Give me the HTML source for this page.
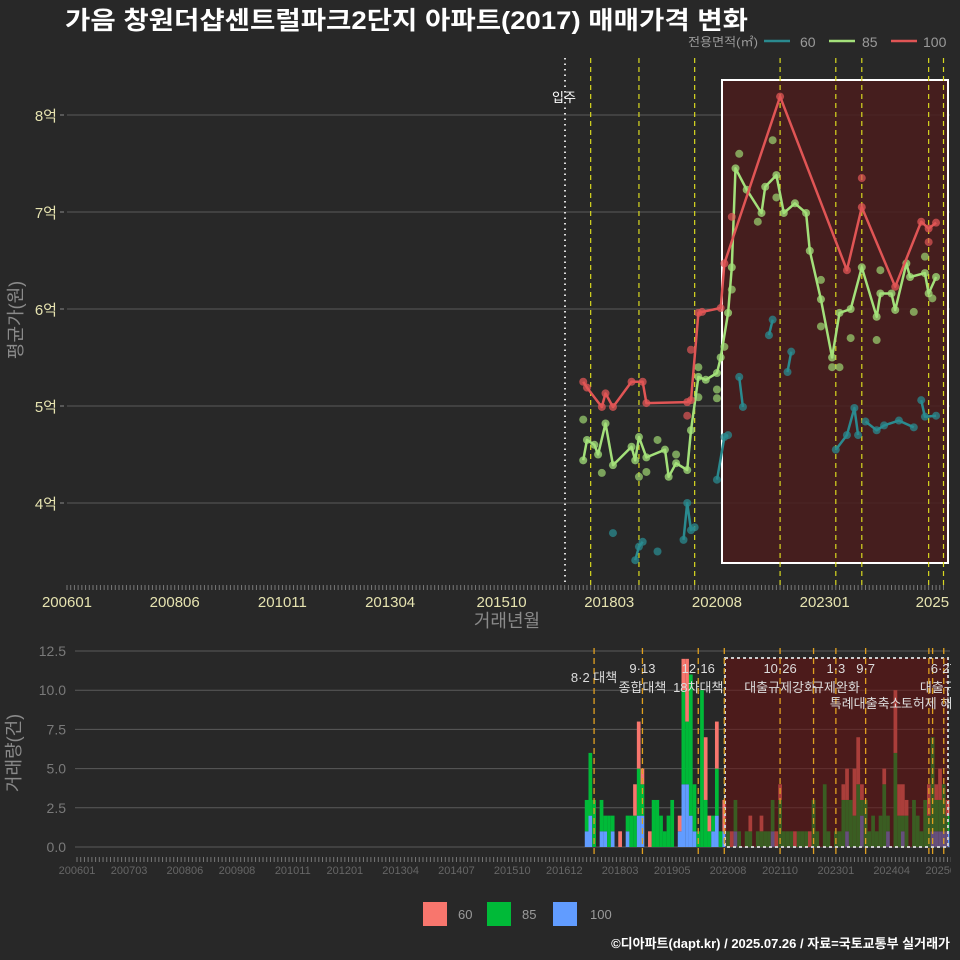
<!DOCTYPE html>
<html><head><meta charset="utf-8">
<style>
html,body{margin:0;padding:0;background:#282828;}
svg{display:block;font-family:"Liberation Sans","Noto Sans CJK KR",sans-serif;}
</style></head>
<body>
<svg id="c" width="960" height="960" viewBox="0 0 960 960" xmlns="http://www.w3.org/2000/svg">
<defs><clipPath id="botClip"><rect x="0" y="640" width="951" height="240"/></clipPath></defs>
<rect width="960" height="960" fill="#282828"/>
<text x="65" y="29" font-size="25" font-weight="bold" fill="#ffffff" textLength="683" lengthAdjust="spacingAndGlyphs">가음 창원더샵센트럴파크2단지 아파트(2017) 매매가격 변화</text>
<g font-size="14" fill="#9a9a9a">
<text x="688" y="46" font-size="12" textLength="70" lengthAdjust="spacingAndGlyphs">전용면적(㎡)</text>
<line x1="764" y1="41" x2="790" y2="41" stroke="#2a8a8f" stroke-width="2.5"/>
<text x="800" y="47">60</text>
<line x1="829" y1="41" x2="855" y2="41" stroke="#a3e07a" stroke-width="2.5"/>
<text x="862" y="47">85</text>
<line x1="891" y1="41" x2="917" y2="41" stroke="#e05555" stroke-width="2.5"/>
<text x="923" y="47">100</text>
</g>
<g id="topPanel"></g>
<g id="botPanel" clip-path="url(#botClip)"></g>
<g font-size="13" fill="#9a9a9a">
<rect x="423" y="902" width="24" height="24" fill="#f8766d"/>
<text x="458" y="919">60</text>
<rect x="487" y="902" width="24" height="24" fill="#00ba38"/>
<text x="522" y="919">85</text>
<rect x="553" y="902" width="24" height="24" fill="#619cff"/>
<text x="590" y="919">100</text>
</g>
<text x="950" y="948" text-anchor="end" font-size="13" font-weight="bold" fill="#ffffff">©디아파트(dapt.kr) / 2025.07.26 / 자료=국토교통부 실거래가</text>
</svg>
<script>
// ---------- price data (억) ----------
const dates85=["201708","201709","201711","201712","201802","201804","201809","201810","201811","201901","201906","201907","201909","201912","202001","202003","202005","202008","202009","202011","202012","202101","202104","202108","202109","202112","202202","202205","202208","202209","202212","202303","202305","202308","202311","202403","202404","202407","202408","202411","202412","202504","202505","202507"];
const price85=[4.44,4.65,4.60,4.50,4.82,4.39,4.58,4.44,4.68,4.47,4.55,4.27,4.41,4.34,4.75,5.30,5.27,5.34,5.50,5.96,6.43,7.45,7.23,6.99,7.26,7.38,6.99,7.09,6.99,6.60,6.10,5.50,5.96,6.00,6.43,5.92,6.16,6.16,5.99,6.47,6.33,6.37,6.16,6.33];
const dates100=["201708","201709","201801","201802","201804","201809","201812","201901","201912","202001","202003","202004","202009","202010","202201","202307","202311","202408","202503","202505","202507"];
const price100=[5.25,5.19,4.99,5.13,4.99,5.25,5.25,5.03,5.04,5.06,5.96,5.97,6.01,6.47,8.19,6.40,7.05,6.23,6.90,6.83,6.89];
const dates60=["201804","201810","201811","201812","201904","201911","201912","202001","202002","202008","202010","202011","202102","202103","202110","202111","202203","202204","202304","202307","202309","202310","202312","202403","202405","202409","202501","202503","202504","202507"];
const price60=[3.69,3.41,3.55,3.60,3.50,3.62,4.00,3.72,3.75,4.24,4.68,4.70,5.30,4.99,5.73,5.89,5.35,5.56,4.55,4.70,4.98,4.70,4.84,4.75,4.80,4.85,4.78,5.06,4.89,4.90];
const gaps60=[0,1,0,0,1,1,0,0,0,1,0,0,1,0,1,0,1,0,1,0,0,0,1,0,0,0,0,1,0,0];
const extraDates85=["201708","201801","201811","201901","201904","201909","202003","202008","202008","202010","202012","202102","202107","202111","202112","202212","202212","202303","202305","202308","202403","202404","202501","202504","202506","202003"];
const extraPrice85=[4.86,4.31,4.27,4.32,4.65,4.50,5.09,5.17,5.08,5.61,6.20,7.60,6.90,7.74,7.15,6.30,5.82,5.40,5.40,5.70,5.68,6.40,5.97,6.54,6.11,5.40];
const extraDates100=["202311","202505","202001","202012","201912"];
const extraPrice100=[7.35,6.69,5.58,6.95,4.90];
const priceTicks=[4,5,6,7,8];
const priceTickLabels=["4억","5억","6억","7억","8억"];
const xTickLabels=["200601","200806","201011","201304","201510","201803","202008","202301","2025"];
const xTickDates=["200601","200806","201011","201304","201510","201803","202008","202301","202506"];
const eventDates=["201710","201811","202002","202201","202304","202311","202505","202509"];
// ---------- volume data (from 201706) ----------
const volStart="201706";
const vol60=[0,0,0,0,0,0,0, 0,0,1,0,0,0,2,3,1,0,1,0, 0,0,0,0,0,0,1,2,4,0,0,0, 0,4,1,0,3,0,2,0,1,0,0,0, 0,1,0,0,1,0,0,0,1,1,0,0, 0,1,0,0,0,1,0,0,0,0,0,0, 0,0,1,2,0,3,3,1,0,0,0,0, 0,1,0,0,4,2,2,1,0,0,0,0, 0,2,0,1,2,0,1];
const vol85=[2,4,3,0,2,1,2, 1,0,0,0,1,2,2,3,2,0,0,3, 3,2,1,2,3,0,0,6,4,9,3,1, 10,3,1,1,3,1,0,1,0,2,1,0, 1,1,0,1,1,1,1,2,0,3,1,1, 1,0,1,1,1,0,3,1,0,4,1,0, 1,1,3,2,3,2,4,1,3,1,2,1, 2,4,1,0,6,2,1,2,0,3,2,1, 3,2,6,2,2,3,1];
const vol100=[1,2,0,0,1,1,0, 1,0,0,0,1,0,0,2,2,0,0,0, 0,0,0,0,0,0,1,4,4,2,1,0, 0,0,0,1,2,0,1,0,0,1,0,0, 0,0,0,0,0,0,0,1,0,0,0,0, 0,0,0,0,0,0,0,0,0,0,0,0, 0,0,0,1,0,0,0,2,0,0,0,0, 0,0,1,0,0,0,1,0,0,0,0,0, 0,0,1,1,1,1,1];
const volTicks=[0,2.5,5,7.5,10,12.5];
const volTickLabels=["0.0","2.5","5.0","7.5","10.0","12.5"];
const botTickDates=["200601","200703","200806","200908","201011","201201","201304","201407","201510","201612","201803","201905","202008","202110","202301","202404","202506"];
const policyDates=["201708","201809","201912","202007","202110","202207","202301","202309","202502","202503","202506"];
const policyTop=["8·2 대책","9·13","12·16","","10·26","","1·3","9·7","","","6·27"];
const policyBottom=["","종합대책","18차대책","","대출규제강화","","규제완화","특례대출축소","","토허제 해제","대출규제"];

const NS="http://www.w3.org/2000/svg";
function mk(parent,tag,attrs){const e=document.createElementNS(NS,tag);for(const k in attrs)e.setAttribute(k,attrs[k]);parent.appendChild(e);return e;}
function mIdx(d){return (parseInt(d.slice(0,4))-2006)*12+parseInt(d.slice(4,6))-1;}
const xT=d=>67+mIdx(d)*3.714;
const yT=v=>115+(8-v)*97;
const xB=m=>77+m*3.72;
const yB=v=>847-v*15.68;

const topG=document.getElementById('topPanel');
priceTicks.forEach((t,i)=>{
  const l=mk(topG,'line',{x1:67,x2:950,y1:yT(t),y2:yT(t),stroke:'#5a5a5a','stroke-width':1});
  
  
  const tx=mk(topG,'text',{x:57,y:yT(t)+6,'text-anchor':'end','font-size':15,fill:'#e6e3b0'});
  tx.textContent=priceTickLabels[i];
  
  
  const tk=mk(topG,'line',{x1:60,x2:64,y1:yT(t),y2:yT(t),stroke:'#888'});
  
  
});
const bx=mk(topG,'rect',{x:722,y:80,width:226,height:483,fill:'#4a1c1c','fill-opacity':0.85,stroke:'#ffffff','stroke-width':2});


const mv=mk(topG,'line',{x1:565,x2:565,y1:58,y2:585,stroke:'#dddddd','stroke-width':2,'stroke-dasharray':'1.5 4'});


const mvt=mk(topG,'text',{x:564,y:102,'text-anchor':'middle','font-size':13,fill:'#ffffff'});
mvt.textContent='입주';


eventDates.forEach(d=>{
  const l=mk(topG,'line',{x1:xT(d),x2:xT(d),y1:58,y2:585,stroke:'#d8d820','stroke-width':1.2,'stroke-dasharray':'5 4'});
  
  
});
for(let m=0;m<=236;m++){
  const l=mk(topG,'line',{x1:67+m*3.714,x2:67+m*3.714,y1:585,y2:590,stroke:'#777','stroke-width':1});
  
  
}
xTickDates.forEach((d,i)=>{
  const t=mk(topG,'text',{x:xT(d),y:607,'text-anchor':'middle','font-size':15,fill:'#e6e3b0'});
  t.textContent=xTickLabels[i];
  
  
});
const xa=mk(topG,'text',{x:507,y:627,'text-anchor':'middle','font-size':18,fill:'#8a8a8a'});
xa.textContent='거래년월';


const ya=mk(topG,'text',{x:22,y:320,'text-anchor':'middle','font-size':18,fill:'#8a8a8a',transform:'rotate(-90 22 320)'});
ya.textContent='평균가(원)';



function series(dates,vals,color,name,gaps){
  let d='';
  dates.forEach((dt,i)=>{d+=((i===0||(gaps&&gaps[i]))?'M':'L')+xT(dt).toFixed(1)+' '+yT(vals[i]).toFixed(1)+' ';});
  const p=mk(topG,'path',{d:d,fill:'none',stroke:color,'stroke-width':2.5,'stroke-linejoin':'round'});
  
  
  dates.forEach((dt,i)=>{
    const c=mk(topG,'circle',{cx:xT(dt),cy:yT(vals[i]),r:4,fill:color,'fill-opacity':0.75});
    
    
  });
}
function pts(dates,vals,color,name){
  dates.forEach((dt,i)=>{
    const c=mk(topG,'circle',{cx:xT(dt),cy:yT(vals[i]),r:4,fill:color,'fill-opacity':0.7});
    
    
  });
}
series(dates60,price60,'#2a8a8f','60',gaps60);
pts(extraDates85,extraPrice85,'#9ed672','85');
series(dates85,price85,'#a3e07a','85');
pts(extraDates100,extraPrice100,'#e05555','100');
series(dates100,price100,'#e05555','100');

const botG=document.getElementById('botPanel');
volTicks.forEach((t,i)=>{
  const l=mk(botG,'line',{x1:75,x2:950,y1:yB(t),y2:yB(t),stroke:'#5a5a5a','stroke-width':1});
  
  
  const tx=mk(botG,'text',{x:66,y:yB(t)+5,'text-anchor':'end','font-size':14,fill:'#7a7a7a'});
  tx.textContent=volTickLabels[i];
  
  
});
const s0=mIdx(volStart);
const bw=3.72;
vol60.forEach((v,i)=>{
  const x=xB(s0+i)-bw/2;
  let base=0;
  [[vol100[i],'#619cff','bar-100'],[vol85[i],'#00ba38','bar-85'],[vol60[i],'#f8766d','bar-60']].forEach(s=>{
    if(s[0]>0){
      const r=mk(botG,'rect',{x:x,y:yB(base+s[0]),width:bw,height:yB(base)-yB(base+s[0]),fill:s[1]});
      
      
      base+=s[0];
    }
  });
});
const bb=mk(botG,'rect',{x:725,y:658,width:223,height:189,fill:'#6a1010','fill-opacity':0.55,stroke:'#cccccc','stroke-width':2,'stroke-dasharray':'3 3'});


policyDates.forEach((d,i)=>{
  const x=xB(mIdx(d));
  const l=mk(botG,'line',{x1:x,x2:x,y1:648,y2:857,stroke:'#e0a020','stroke-width':1.3,'stroke-dasharray':'6 4'});
  
  
  if(policyTop[i]){
    const t=mk(botG,'text',{x:x,y:i===0?682:673,'text-anchor':'middle','font-size':13,fill:'#dddddd'});
    t.textContent=policyTop[i];
    
    
  }
  if(policyBottom[i]){
    const yy=(i===7||i===9)?708:692;
    const t=mk(botG,'text',{x:x,y:yy,'text-anchor':'middle','font-size':13,fill:'#dddddd'});
    t.textContent=policyBottom[i];
    
    
  }
});
for(let m=0;m<=236;m++){
  const l=mk(botG,'line',{x1:xB(m),x2:xB(m),y1:857,y2:862,stroke:'#777','stroke-width':1});
  
  
}
botTickDates.forEach(d=>{
  const t=mk(botG,'text',{x:xB(mIdx(d)),y:874,'text-anchor':'middle','font-size':11,fill:'#666666'});
  t.textContent=d;
  
  
});
const yb=mk(botG,'text',{x:20,y:753,'text-anchor':'middle','font-size':18,fill:'#8a8a8a',transform:'rotate(-90 20 753)'});
yb.textContent='거래량(건)';


</script>
</body></html>
